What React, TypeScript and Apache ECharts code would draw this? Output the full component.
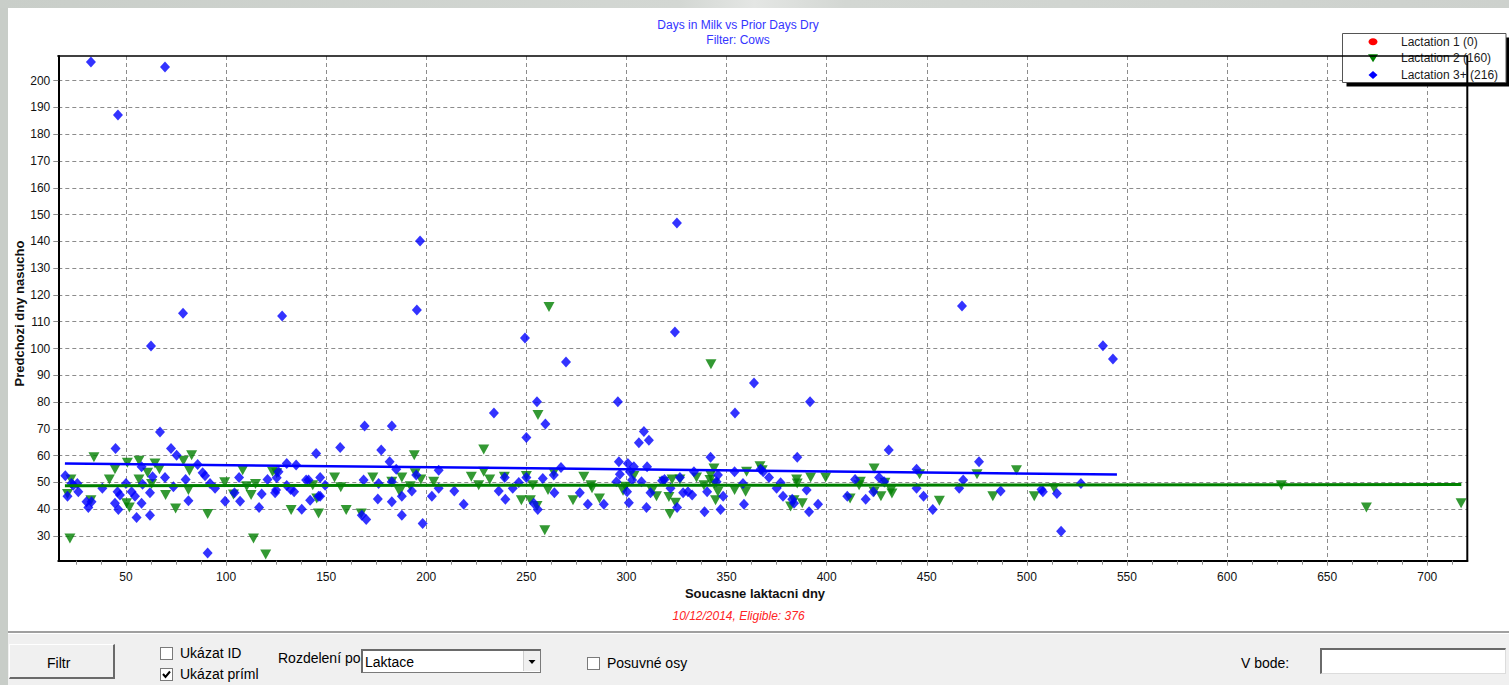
import React, { useEffect, useRef } from "react";
import * as echarts from "echarts";

// ---------- texts ----------
const titleLines = ["Days in Milk vs Prior Days Dry", "Filter: Cows"];
const xAxisTitle = "Soucasne laktacni dny";
const yAxisTitle = "Predchozi dny nasucho";
const footerText = "10/12/2014, Eligible: 376";
const legendLabels = ["Lactation 1 (0)", "Lactation 2 (160)", "Lactation 3+ (216)"];

// ---------- axes ----------
const xMin = 16.2;
const xMax = 720;
const yMin = 20.8;
const yMax = 209.2;
const xTickValues = [50, 100, 150, 200, 250, 300, 350, 400, 450, 500, 550, 600, 650, 700];
const yTickValues = [30, 40, 50, 60, 70, 80, 90, 100, 110, 120, 130, 140, 150, 160, 170, 180, 190, 200];
const xMinorStep = 12.5;

// ---------- data [days in milk, prior days dry] ----------
const lactation1: number[][] = [];

const lactation2: number[][] = [
  [22, 29.1], [22.5, 51.1], [20.8, 45.7], [34, 59.4], [32.5, 43.4], [41.7, 51.1], [44.5, 54.9],
  [50.7, 57.4], [50.3, 42.2], [51.7, 40.7], [56.5, 58.1], [56.5, 51.1], [60.8, 53.6], [62.8, 49.4],
  [64.5, 57.1], [66.7, 54.9], [69.8, 45.3], [74.8, 40.3], [78.7, 58.1], [81.2, 47.2], [82.8, 60.2],
  [81.7, 54.4], [90.8, 38.2], [99.3, 50.1], [103.7, 45.5], [108.3, 54.6], [110.3, 48.6], [112.5, 45.3],
  [114.7, 49.4], [113.7, 29.1], [119.8, 23.1], [123.2, 54], [125.3, 53.4], [132.5, 39.7], [143.3, 49],
  [146.2, 38.4], [145.3, 44],
  [154.2, 51.9], [157.3, 48.2], [160, 39.7], [167.5, 38.4], [173.3, 51.9], [182.8, 50.3], [186.7, 46.5],
  [187.8, 51.9], [192, 48.6], [194, 60.2], [194.5, 53.4], [197.3, 51.1], [203.7, 50.3], [222.5, 52.1],
  [226.2, 49], [228.7, 62.3], [228.7, 54], [231.7, 51.1], [239, 52.1], [247.5, 43.4], [250, 52.4],
  [252, 43.4], [253.2, 49], [255.3, 41.2], [259.2, 32.2], [260.8, 47.2], [263.7, 53.6], [273.3, 43.4],
  [278.7, 52.1], [282.3, 49], [282.8, 47.8], [286.5, 44],
  [261.3, 115.5], [342.2, 94.1], [255.8, 75.2],
  [298.3, 46.9], [299.5, 48.4], [303.7, 52.4], [312.8, 46.9], [315, 44.9], [321.2, 44.6], [321.7, 38.2],
  [324.5, 42.4], [318.7, 50.3], [322.8, 51.1], [326.7, 51.1], [335, 51.9], [338.7, 49], [341.7, 50.9],
  [343.7, 55.2], [344, 49.6], [344.5, 43.4], [345.7, 46.5], [342, 52.8], [354, 47.2], [359.5, 46.5],
  [360, 54], [366.7, 56.1], [367.8, 54.6], [382, 41], [383.7, 43.4], [385, 51.1], [385.3, 49.6],
  [387.8, 42.2], [392, 51.9], [399.5, 51.9], [411.7, 44], [416.2, 49], [423.7, 55.2], [423.7, 46.5],
  [416.8, 50.3], [427.1, 44.9], [429.1, 49.9], [432.2, 47.2], [432.6, 45.9], [446.4, 53.1], [456.3, 43.2],
  [475.1, 53.1], [483, 44.9], [494.8, 54.6], [503.7, 44.9], [513.6, 47.8], [627.1, 49], [669.6, 40.7],
  [716.9, 42.2],
];

const lactation3: number[][] = [
  [19.7, 52.5], [20.8, 44.9], [22.8, 49.6], [23.7, 49], [25.7, 49.6], [26.2, 46.5], [30.3, 42.8],
  [31.2, 40.7], [32.8, 42.8], [38.2, 47.8], [44.8, 62.7], [45.8, 46.5], [47, 45.3], [44.5, 42.2],
  [46.2, 39.9], [50, 49.6], [52.8, 46.5], [54.5, 44.9], [55.3, 36.9], [57.8, 42.2], [58.3, 49.3],
  [57.8, 55.9], [62, 46.2], [62, 37.8], [63.3, 52.1], [67, 68.8], [69.5, 51.9], [72.5, 62.7],
  [75.3, 60.2], [73.7, 48.4], [79.8, 51.1], [81.2, 43.2], [85.8, 56.7], [88.3, 53.6], [89.5, 52.5],
  [92, 49.6], [94.5, 47.8], [90.8, 23.7], [99.5, 43], [104.2, 46.2], [106.5, 51.9], [107, 43],
  [116.5, 40.7], [117.8, 45.7], [120.7, 51.1], [125, 47.2], [125.3, 51.8], [124.5, 46.2], [126.2, 54],
  [130.3, 57.1], [135, 56.5], [130.3, 48.9], [134, 46.5], [132.3, 47.4], [137.8, 40], [142, 43.4],
  [141.2, 50.9], [145, 60.8], [146.2, 44.9],
  [140, 50.9], [147, 51.9], [147, 44.9], [149.5, 49], [157, 63.1], [169.2, 71.1], [168.7, 50.9],
  [167.8, 37.8], [170, 36.2], [176.2, 49.6], [175.8, 43.8], [177.5, 62.1], [181.7, 57.7], [185, 54.9],
  [182.8, 71.1], [182.8, 42.8], [182.8, 50.3], [187.8, 44.9], [187.8, 37.8], [192.8, 46.8], [195, 52.8],
  [198.2, 34.7], [202.8, 44.9], [206.2, 54.6], [206.2, 47.8], [214, 46.8], [218.7, 41.9], [236.2, 46.8],
  [239.5, 43.7], [239.2, 51.9], [243.2, 47.8], [246.2, 50], [250, 66.8], [250, 51.9], [253.7, 42.2],
  [255.7, 39.9], [258.2, 51.5], [259.5, 71.8], [264, 46.2], [263.7, 52.8], [267.3, 55.6], [276.7, 46.2],
  [280.7, 41.9],
  [288.7, 41.9], [296.2, 57.7], [296.7, 53.1], [300.7, 57.1], [301.7, 54], [303.7, 55.9], [308.7, 69],
  [306.2, 64.8], [311.2, 65.8], [310.3, 55.9], [307.5, 50.3], [302.8, 50.9], [300.3, 46.5], [301.2, 42.4],
  [310, 40.7], [312, 46.2], [295, 50.3], [317.8, 50.6], [319, 51.1], [322, 47.8], [325.3, 40.7],
  [326.7, 51.9], [328.3, 46.2], [330.7, 46.5], [332.8, 45.3], [333.7, 54], [339, 39.1], [340.3, 46.5],
  [342, 59.4], [345.7, 52.8], [345, 50.3], [347, 39.9], [348.3, 44.9], [354, 54], [358.2, 49.6],
  [358.7, 41.9], [367, 54.9], [368.3, 54], [371.2, 51.9], [375, 47.8], [377, 49.9], [378.2, 44.9],
  [382.8, 43.7], [383.7, 42.2], [385.3, 59.4], [390, 47.2], [391.2, 39.1], [395.7, 41.9], [410.3, 44.9],
  [414.2, 51.1], [419.5, 43.7], [423.3, 46.5], [426.2, 51.9],
  [428.7, 50.3], [431, 62.1], [444.9, 54.9], [444.9, 47.8], [448.4, 44.9], [453, 39.9], [466.2, 47.8],
  [468.2, 50.9], [476.1, 57.7], [486.9, 46.8], [507.3, 47.4], [508, 46.5], [515, 45.9], [517.1, 31.8],
  [527, 49.6],
  [32.5, 207], [46, 187.2], [69.5, 205.1], [78.5, 113.2], [62.5, 100.9], [128, 112.1], [196.9, 140.1],
  [195.3, 114.4], [325.2, 146.9], [324.2, 106.2], [249.3, 103.9], [269.8, 95], [467.6, 115.9],
  [538, 101], [543, 96.1], [363.7, 87.1], [295.7, 80.1], [255.3, 80.1], [391.7, 80.1], [233.8, 75.9],
  [354.2, 75.9],
];

// trend lines (end points)
const trendLactation2: number[][] = [[19.5, 48.8], [717, 49.2]];
const trendLactation3: number[][] = [[19.5, 57.1], [545, 53.0]];

// ---------- colours ----------
const RED = "#ff0000";
const GREEN = "#008000";
const BLUE = "#0000ff";

// layout (page pixels)
const PLOT_L = 58.3;
const PLOT_R = 1467.3;
const PLOT_T = 56;
const PLOT_B = 560.7;
const CHART_W = 1509;
const CHART_H = 631;

function Checkbox({ checked, x, y }: { checked: boolean; x: number; y: number }) {
  return (
    <div
      style={{
        position: "absolute",
        left: x,
        top: y,
        width: 11,
        height: 11,
        border: "1px solid #7a7a7a",
        background: "#fff",
      }}
    >
      {checked ? (
        <svg width="11" height="11" style={{ position: "absolute", left: 0, top: 0 }}>
          <polyline points="2,5 4.5,8 9,2.5" fill="none" stroke="#000" strokeWidth="2" />
        </svg>
      ) : null}
    </div>
  );
}

export default function App() {
  const ref = useRef<HTMLDivElement>(null);

  useEffect(() => {
    if (!ref.current) return;
    const chart = echarts.init(ref.current, undefined, { renderer: "svg" });

    const xMinor: number[] = [];
    for (let v = Math.ceil(xMin / xMinorStep) * xMinorStep; v <= xMax; v += xMinorStep) xMinor.push(v);

    const font = "Liberation Sans, Arial, sans-serif";
    const dashed = { color: "#8c8c8c", type: [4, 3] as any, width: 1 };

    const legendX = 1342.5;
    const legendY = 33.5;
    const legendW = 163.5;
    const legendH = 49;
    const rowY = [41.7, 58.3, 75];
    const mx = 1373;

    const option: any = {
      animation: false,
      backgroundColor: "transparent",
      grid: {
        left: PLOT_L,
        right: CHART_W - PLOT_R,
        top: PLOT_T,
        bottom: CHART_H - PLOT_B,
        containLabel: false,
      },
      xAxis: [
        {
          type: "value",
          min: xMin,
          max: xMax,
          position: "bottom",
          axisLine: { show: true, onZero: false, lineStyle: { color: "#000", width: 2 } },
          axisTick: { show: true, length: 5, customValues: xTickValues, lineStyle: { color: "#8c8c8c" } },
          axisLabel: {
            customValues: xTickValues,
            color: "#111",
            fontSize: 12,
            fontFamily: font,
            margin: 10,
          },
          splitLine: { show: true, lineStyle: dashed },
        },
        {
          type: "value",
          min: xMin,
          max: xMax,
          position: "bottom",
          axisLine: { show: false },
          axisTick: { show: true, length: 4, customValues: xMinor, lineStyle: { color: "#8c8c8c" } },
          axisLabel: { show: false },
          splitLine: { show: false },
        },
      ],
      yAxis: {
        type: "value",
        min: yMin,
        max: yMax,
        axisLine: { show: true, onZero: false, lineStyle: { color: "#000", width: 2 } },
        axisTick: { show: true, length: 5, customValues: yTickValues, lineStyle: { color: "#8c8c8c" } },
        axisLabel: {
          customValues: yTickValues,
          color: "#111",
          fontSize: 12,
          fontFamily: font,
          margin: 8,
        },
        splitLine: { show: true, lineStyle: dashed },
      },
      series: [
        {
          name: legendLabels[0],
          type: "scatter",
          data: lactation1,
          symbol: "circle",
          symbolSize: [9, 7],
          itemStyle: { color: RED },
        },
        {
          name: legendLabels[1],
          type: "scatter",
          data: lactation2,
          symbol: "triangle",
          symbolRotate: 180,
          symbolSize: [11, 10],
          itemStyle: { color: GREEN },
          z: 3,
        },
        {
          name: legendLabels[2],
          type: "scatter",
          data: lactation3,
          symbol: "diamond",
          symbolSize: [10, 11],
          itemStyle: { color: BLUE },
          z: 4,
        },
        {
          type: "line",
          data: trendLactation2,
          symbol: "none",
          lineStyle: { color: GREEN, width: 3 },
          z: 5,
          silent: true,
        },
        {
          type: "line",
          data: trendLactation3,
          symbol: "none",
          lineStyle: { color: BLUE, width: 2.5 },
          z: 6,
          silent: true,
        },
      ],
      graphic: [
        {
          type: "text",
          x: 738,
          y: 24.5,
          style: { text: titleLines[0], fill: "#3434ff", font: `12px ${font}`, textAlign: "center", textVerticalAlign: "middle" },
        },
        {
          type: "text",
          x: 738,
          y: 40,
          style: { text: titleLines[1], fill: "#3434ff", font: `12px ${font}`, textAlign: "center", textVerticalAlign: "middle" },
        },
        {
          type: "text",
          x: 755,
          y: 593,
          style: { text: xAxisTitle, fill: "#111", font: `bold 13px ${font}`, textAlign: "center", textVerticalAlign: "middle" },
        },
        {
          type: "text",
          x: 19,
          y: 313.5,
          rotation: Math.PI / 2,
          style: { text: yAxisTitle, fill: "#111", font: `bold 13px ${font}`, textAlign: "center", textVerticalAlign: "middle" },
        },
        {
          type: "text",
          x: 738.5,
          y: 616,
          style: { text: footerText, fill: "#ff2424", font: `italic 12px ${font}`, textAlign: "center", textVerticalAlign: "middle" },
        },
        // legend
        {
          type: "rect",
          z: 50,
          shape: { x: legendX + 4, y: legendY + 4, width: legendW, height: legendH },
          style: { fill: "#000" },
        },
        {
          type: "rect",
          z: 51,
          shape: { x: legendX, y: legendY, width: legendW, height: legendH },
          style: { fill: "#fff", stroke: "#555", lineWidth: 1 },
        },
        {
          type: "ellipse",
          z: 52,
          shape: { cx: mx, cy: rowY[0], rx: 4.5, ry: 3.5 },
          style: { fill: RED },
        },
        {
          type: "polygon",
          z: 52,
          shape: { points: [[mx - 5, rowY[1] - 4], [mx + 5, rowY[1] - 4], [mx, rowY[1] + 4]] },
          style: { fill: GREEN },
        },
        {
          type: "polygon",
          z: 52,
          shape: { points: [[mx, rowY[2] - 4], [mx + 4.5, rowY[2]], [mx, rowY[2] + 4], [mx - 4.5, rowY[2]]] },
          style: { fill: BLUE },
        },
        ...legendLabels.map((t, i) => ({
          type: "text",
          z: 52,
          x: 1401,
          y: rowY[i],
          style: { text: t, fill: "#1a1a1a", font: `12px ${font}`, textVerticalAlign: "middle" },
        })),
        // plot frame (top & right), drawn above the legend
        {
          type: "line",
          z: 60,
          shape: { x1: PLOT_L - 1, y1: PLOT_T, x2: PLOT_R, y2: PLOT_T },
          style: { stroke: "#000", lineWidth: 1.5 },
        },
        {
          type: "line",
          z: 60,
          shape: { x1: PLOT_R, y1: PLOT_T - 0.7, x2: PLOT_R, y2: PLOT_B + 1 },
          style: { stroke: "#000", lineWidth: 2 },
        },
      ],
    };

    chart.setOption(option);
    return () => chart.dispose();
  }, []);

  const ctl = "Liberation Sans, Arial, sans-serif";
  const txt = (s: string, x: number, y: number, extra: any = {}) => (
    <div
      style={{
        position: "absolute",
        left: x,
        top: y,
        fontFamily: ctl,
        fontSize: 14,
        lineHeight: "16px",
        color: "#000",
        whiteSpace: "nowrap",
        ...extra,
      }}
    >
      {s}
    </div>
  );

  return (
    <div style={{ position: "fixed", left: 0, top: 0, width: 1509, height: 685, background: "#c8cdc8", overflow: "hidden" }}>
      <div style={{ position: "absolute", left: 0, top: 0, width: 1509, height: 8, background: "linear-gradient(90deg,#c9cec9 0%,#d3d7d3 45%,#e4e6e4 50%,#d3d7d3 56%,#cdd1cd 100%)" }} />
      <div style={{ position: "absolute", left: 8, top: 8, width: 1501, height: CHART_H - 8, background: "#fff" }} />
      <div ref={ref} style={{ position: "absolute", left: 0, top: 0, width: CHART_W, height: CHART_H }} />
      {/* bottom control panel */}
      <div style={{ position: "absolute", left: 8, top: CHART_H, width: 1501, height: 685 - CHART_H, background: "#f0f0f0", borderTop: "2px solid #a0a0a0", boxSizing: "border-box" }}>
        <div style={{ position: "absolute", left: 0, top: 0, width: 1501, height: 1, background: "#fff" }} />
      </div>
      {/* Filtr button */}
      <div
        style={{
          position: "absolute",
          left: 9,
          top: 644,
          width: 106,
          height: 35,
          boxSizing: "border-box",
          background: "#f0f0f0",
          borderTop: "1px solid #fff",
          borderLeft: "1px solid #fff",
          borderRight: "2px solid #6a6a6a",
          borderBottom: "2px solid #6a6a6a",
        }}
      />
      {txt("Filtr", 47, 655)}
      <Checkbox checked={false} x={160} y={647} />
      {txt("Ukázat ID", 180, 645)}
      <Checkbox checked={true} x={160} y={668} />
      {txt("Ukázat príml", 180, 666)}
      {txt("Rozdelení po", 278, 650, { width: 83, overflow: "hidden" })}
      {/* select box */}
      <div style={{ position: "absolute", left: 361, top: 649, width: 180, height: 24, boxSizing: "border-box", background: "#fff", border: "1px solid #7a7a7a", borderTop: "2px solid #6a6a6a", borderLeft: "2px solid #6a6a6a" }}>
        <div style={{ position: "absolute", right: 0, top: 0, width: 16, height: 20, background: "#f0f0f0", borderLeft: "1px solid #cfcfcf" }}>
          <svg width="16" height="20" style={{ position: "absolute", left: 0, top: 0 }}>
            <polygon points="4.5,9 11.5,9 8,13" fill="#000" />
          </svg>
        </div>
      </div>
      {txt("Laktace", 365, 654)}
      <Checkbox checked={false} x={587} y={657} />
      {txt("Posuvné osy", 607, 655)}
      {txt("V bode:", 1241, 655)}
      <div style={{ position: "absolute", left: 1320, top: 648, width: 186, height: 26, boxSizing: "border-box", background: "#fff", borderTop: "2px solid #6a6a6a", borderLeft: "2px solid #6a6a6a", borderRight: "1px solid #dcdcdc", borderBottom: "1px solid #dcdcdc" }} />
    </div>
  );
}
